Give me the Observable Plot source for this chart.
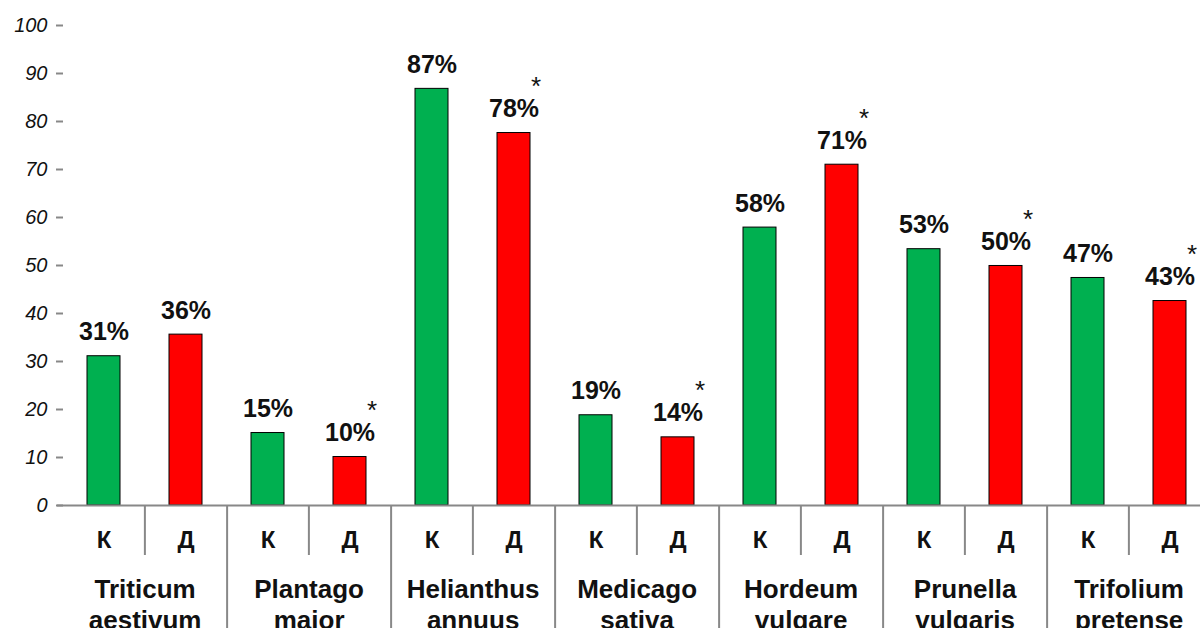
<!DOCTYPE html>
<html><head><meta charset="utf-8">
<script src="https://cdn.jsdelivr.net/npm/d3@7"></script>
<script src="https://cdn.jsdelivr.net/npm/@observablehq/plot@0.6"></script>
<style>html,body{margin:0;padding:0;background:#fff;overflow:hidden;}</style>
</head><body><div id="chart"></div>
<script>
const species = ["Triticum\naestivum","Plantago\nmajor","Helianthus\nannuus","Medicago\nsativa","Hordeum\nvulgare","Prunella\nvulgaris","Trifolium\npretense"];
const groups = ["К","Д"];
const controlValues = [31.1, 15.1, 86.8, 18.8, 57.9, 53.4, 47.4];
const experimentValues = [35.6, 10.1, 77.6, 14.2, 71.0, 49.9, 42.6];
const controlLabels = ["31%","15%","87%","19%","58%","53%","47%"];
const experimentLabels = ["36%","10%","78%","14%","71%","50%","43%"];
const significant = [false, true, true, true, true, true, true];
const yTicks = [0,10,20,30,40,50,60,70,80,90,100];
const colors = ["#00B050", "#FF0000"];

const rows = [];
species.forEach((s, i) => {
  rows.push({key: i + "-К", species: s, group: "К", value: controlValues[i], label: controlLabels[i], star: false});
  rows.push({key: i + "-Д", species: s, group: "Д", value: experimentValues[i], label: experimentLabels[i], star: significant[i]});
});

const W = 1200, H = 628;
const x0 = 61, x1 = 1212;
const step = (x1 - x0) / rows.length;
const font = "Liberation Sans, Arial, sans-serif";

const chart = Plot.plot({
  width: W, height: H,
  marginTop: 25, marginBottom: 123, marginLeft: 63, marginRight: 0,
  style: {fontFamily: font, background: "#fff"},
  x: {type: "band", domain: rows.map(d => d.key), range: [x0, x1], paddingInner: 0.6, paddingOuter: 0.3, axis: null},
  y: {domain: [0, 100], axis: null},
  color: {domain: groups, range: colors},
  marks: [
    Plot.axisY({ticks: yTicks, tickSize: 7, tickPadding: 9, stroke: "#888", strokeWidth: 2, fill: "#111", fontSize: 20, fontStyle: "italic", label: null}),
    Plot.barY(rows, {x: "key", y: "value", fill: "group", stroke: "#000", strokeWidth: 1}),
    Plot.ruleY([0], {stroke: "#888", strokeWidth: 2.2, insetLeft: -6}),
    Plot.text(rows, {x: "key", y: "value", text: "label", dy: -16, lineAnchor: "bottom", fontSize: 25, fontWeight: "bold", fill: "#111"}),
    Plot.text(rows.filter(d => d.star), {x: "key", y: "value", text: () => "*", dx: 22, dy: -38, lineAnchor: "bottom", fontSize: 26, fill: "#111"}),
    Plot.text(rows, {x: "key", y: 0, text: "group", dy: 35, fontSize: 24, fontWeight: "bold", fill: "#111"}),
    Plot.text(rows.filter(d => d.group === "К"), {x: "key", y: 0, text: "species", dx: step / 2, dy: 71, lineAnchor: "top", lineHeight: 1.18, fontSize: 26, fontWeight: "bold", fill: "#111"}),
    Plot.ruleX(rows.filter(d => d.group === "Д"), {x: "key", dx: -step / 2, stroke: "#888", strokeWidth: 2, insetTop: 480, insetBottom: -50}),
    Plot.ruleX(rows.filter(d => d.group === "Д"), {x: "key", dx: step / 2, stroke: "#888", strokeWidth: 2, insetTop: 480, insetBottom: -123})
  ]
});
document.getElementById("chart").appendChild(chart);
</script>
</body></html>
